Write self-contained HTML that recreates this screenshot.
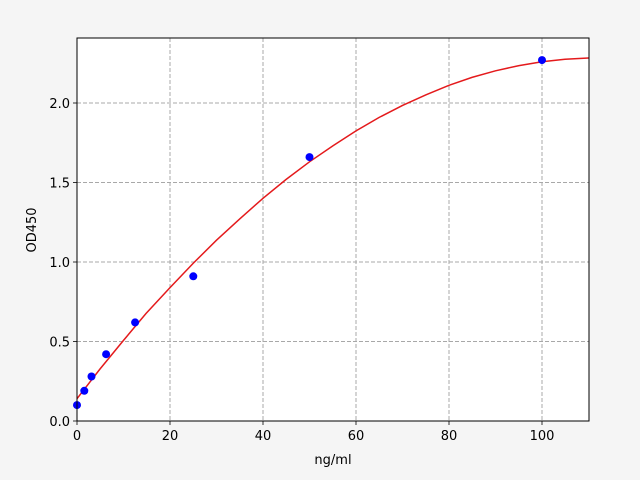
<!DOCTYPE html>
<html><head><meta charset="utf-8"><style>
html,body{margin:0;padding:0;background:#f5f5f5;}
svg{display:block;font-family:"DejaVu Sans","Liberation Sans",sans-serif;}
</style></head><body>
<svg width="640" height="480" viewBox="0 0 640 480">
<rect width="640" height="480" fill="#f5f5f5"/>
<rect x="77" y="38" width="512" height="383" fill="#fff"/>
<g stroke="#a8a8a8" stroke-width="1" stroke-dasharray="4,2">
<line x1="77" y1="38" x2="77" y2="421"/><line x1="170" y1="38" x2="170" y2="421"/>
<line x1="263" y1="38" x2="263" y2="421"/><line x1="356" y1="38" x2="356" y2="421"/>
<line x1="449" y1="38" x2="449" y2="421"/><line x1="542" y1="38" x2="542" y2="421"/>
<line x1="77" y1="421" x2="589" y2="421"/><line x1="77" y1="341.5" x2="589" y2="341.5"/>
<line x1="77" y1="262" x2="589" y2="262"/><line x1="77" y1="182.5" x2="589" y2="182.5"/>
<line x1="77" y1="103" x2="589" y2="103"/>
</g>
<polyline fill="none" stroke="#e41a1c" stroke-width="1.5" points="77,398.7 100,369 123.5,340.4 146,313.5 170,287.6 193,263.5 216.5,240.2 240,218.7 263,198.3 286,179.5 309.5,161.8 333,145.8 356,130.9 379,117.5 402.5,105.4 426,94.8 449,85.3 472,77.4 495.5,70.8 519,65.6 542,61.7 565,59.3 588.5,58"/>
<g fill="#0000ff">
<circle cx="77" cy="405.1" r="4"/><circle cx="84.3" cy="390.8" r="4"/><circle cx="91.5" cy="376.5" r="4"/>
<circle cx="106.1" cy="354.2" r="4"/><circle cx="135.1" cy="322.4" r="4"/><circle cx="193.3" cy="276.3" r="4"/>
<circle cx="309.5" cy="157.1" r="4"/><circle cx="542" cy="60.1" r="4"/>
</g>
<rect x="77" y="38" width="512" height="383" fill="none" stroke="#000" stroke-width="1"/>
<g stroke="#000" stroke-width="0.8">
<line x1="77" y1="421" x2="77" y2="425"/><line x1="170" y1="421" x2="170" y2="425"/>
<line x1="263" y1="421" x2="263" y2="425"/><line x1="356" y1="421" x2="356" y2="425"/>
<line x1="449" y1="421" x2="449" y2="425"/><line x1="542" y1="421" x2="542" y2="425"/>
<line x1="73" y1="421" x2="77" y2="421"/><line x1="73" y1="341.5" x2="77" y2="341.5"/>
<line x1="73" y1="262" x2="77" y2="262"/><line x1="73" y1="182.5" x2="77" y2="182.5"/>
<line x1="73" y1="103" x2="77" y2="103"/>
</g>
<g font-size="13" fill="#000" text-anchor="middle">
<text x="77" y="440">0</text><text x="170" y="440">20</text><text x="263" y="440">40</text>
<text x="356" y="440">60</text><text x="449" y="440">80</text><text x="542" y="440">100</text>
<text x="333" y="464">ng/ml</text>
</g>
<g font-size="13" fill="#000" text-anchor="end">
<text x="70" y="426">0.0</text><text x="70" y="346.5">0.5</text><text x="70" y="267">1.0</text>
<text x="70" y="187.5">1.5</text><text x="70" y="108">2.0</text>
</g>
<text x="36" y="230" font-size="13" text-anchor="middle" transform="rotate(-90 36 230)">OD450</text>
</svg>
</body></html>
